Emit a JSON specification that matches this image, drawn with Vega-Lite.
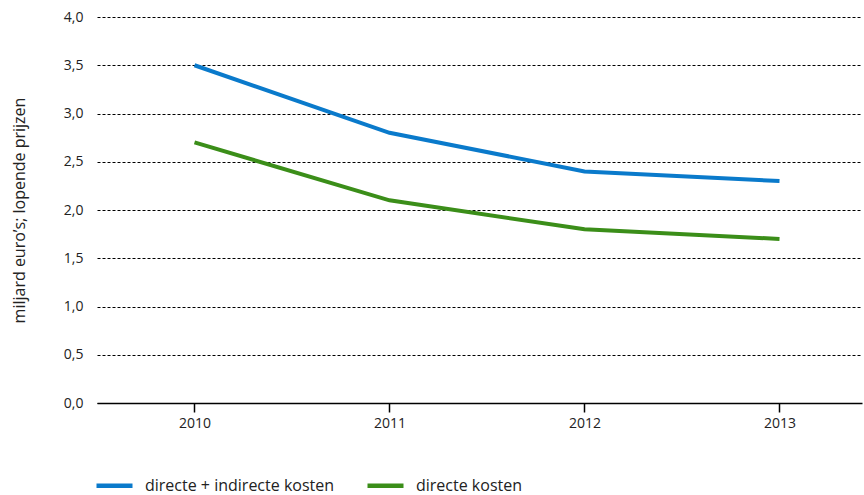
{
  "$schema": "https://vega.github.io/schema/vega-lite/v6.json",
  "width": 765,
  "height": 386,
  "autosize": {"type": "none"},
  "padding": {"left": 97, "top": 17, "right": 2, "bottom": 92},
  "background": "white",
  "config": {
    "view": {"stroke": null},
    "font": "Open Sans"
  },
  "data": {
    "values": [
      {"jaar": 2010, "reeks": "directe + indirecte kosten", "waarde": 3.5},
      {"jaar": 2011, "reeks": "directe + indirecte kosten", "waarde": 2.8},
      {"jaar": 2012, "reeks": "directe + indirecte kosten", "waarde": 2.4},
      {"jaar": 2013, "reeks": "directe + indirecte kosten", "waarde": 2.3},
      {"jaar": 2010, "reeks": "directe kosten", "waarde": 2.7},
      {"jaar": 2011, "reeks": "directe kosten", "waarde": 2.1},
      {"jaar": 2012, "reeks": "directe kosten", "waarde": 1.8},
      {"jaar": 2013, "reeks": "directe kosten", "waarde": 1.7}
    ]
  },
  "mark": {"type": "line", "strokeWidth": 4, "clip": false},
  "encoding": {
    "x": {
      "field": "jaar",
      "type": "quantitative",
      "scale": {"domain": [2009.5, 2013.4231], "nice": false, "zero": false},
      "axis": {
        "title": null,
        "values": [2010, 2011, 2012, 2013],
        "format": "d",
        "grid": false,
        "domainColor": "#000000",
        "domainWidth": 1.5,
        "ticks": true,
        "tickColor": "#000000",
        "tickSize": 9,
        "tickWidth": 1.5,
        "tickOpacity": 1,
        "labelFontSize": 14,
        "labelColor": "#222222",
        "labelPadding": 4,
        "labelFont": "Open Sans",
        "encode": {"ticks": {"update": {"y2": {"value": -9}}}}
      }
    },
    "y": {
      "field": "waarde",
      "type": "quantitative",
      "scale": {"domain": [0, 4], "nice": false},
      "axis": {
        "title": "miljard euro’s; lopende prijzen",
        "titleFontSize": 16,
        "titleFontWeight": "normal",
        "titleColor": "#222222",
        "titleFont": "Open Sans",
        "titlePadding": 36,
        "values": [0, 0.5, 1, 1.5, 2, 2.5, 3, 3.5, 4],
        "labelExpr": "replace(format(datum.value, '.1f'), '.', ',')",
        "labelFontSize": 14,
        "labelColor": "#222222",
        "labelPadding": 14,
        "labelFont": "Open Sans",
        "domain": false,
        "ticks": false,
        "grid": true,
        "gridColor": "#000000",
        "gridDash": [3, 2],
        "gridWidth": 1,
        "gridOpacity": 1
      }
    },
    "color": {
      "field": "reeks",
      "type": "nominal",
      "scale": {
        "domain": ["directe + indirecte kosten", "directe kosten"],
        "range": ["#0a7acb", "#3b8e19"]
      },
      "legend": {
        "title": null,
        "orient": "none",
        "direction": "horizontal",
        "legendX": -3,
        "legendY": 448,
        "symbolType": "stroke",
        "symbolSize": 1296,
        "symbolStrokeWidth": 4.5,
        "labelFontSize": 16,
        "labelColor": "#222222",
        "labelFont": "Open Sans",
        "labelLimit": 400,
        "labelOffset": 10,
        "columnPadding": 23
      }
    }
  }
}
